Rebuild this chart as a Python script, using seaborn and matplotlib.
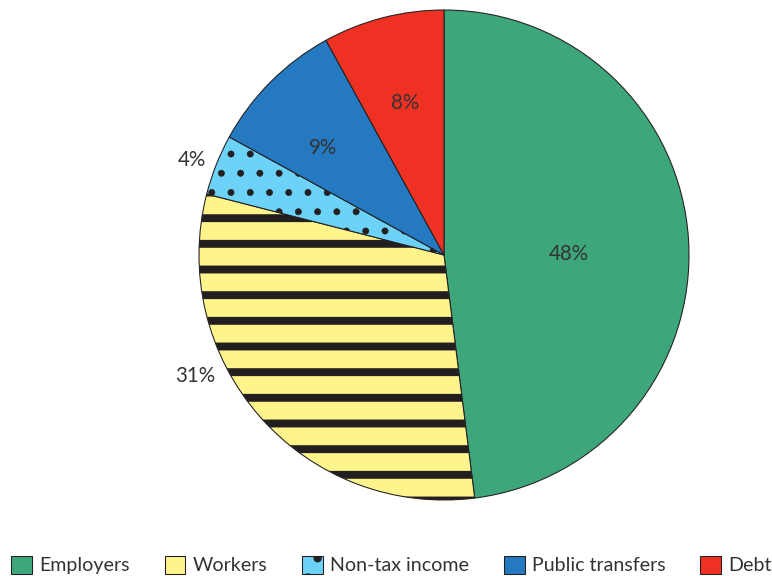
import numpy as np
import matplotlib
matplotlib.use("Agg")
import matplotlib.pyplot as plt
import matplotlib.hatch as mhatch
import seaborn as sns

# ---- data ----
categories = ["Employers", "Workers", "Non-tax income", "Public transfers", "Debt"]
shares = [48, 31, 4, 9, 8]
pct_labels = ["48%", "31%", "4%", "9%", "8%"]

# ---- style ----
colors = ["#3da77b", "#fff48c", "#6dd2f7", "#2479c0", "#ef3124"]
hatches = [None, "-", ".", None, None]
hatch_lw = [0.5, 3.7, 0.3, 0.5, 0.5]
text_color = "#333333"
edge_color = "#231f20"


# denser, bigger halftone-like dots for the '.' hatch
class _Dots(mhatch.Circles):
    size = 0.16
    filled = True

    def __init__(self, hatch, density):
        n = int(round(hatch.count('.') * density * 4 / 3))
        if n % 2:
            n += 1
        self.num_rows = n
        super().__init__(hatch, density)


if hasattr(mhatch, "_hatch_types"):
    mhatch._hatch_types = [(_Dots if c is mhatch.SmallFilledCircles else c)
                           for c in mhatch._hatch_types]

sns.set_theme(style="white")
plt.rcParams["font.family"] = ["Lato", "DejaVu Sans"]

DPI = 154
fig = plt.figure(figsize=(772 / DPI, 576 / DPI), dpi=DPI)
R_PX = 245.0
cx, cy = 444.0, 576.0 - 255.0
half = 1.25 * R_PX
ax = fig.add_axes([(cx - half) / 772, (cy - half) / 576, 2 * half / 772, 2 * half / 576])

wedges, _ = ax.pie(shares, colors=colors, startangle=90, counterclock=False,
                   wedgeprops=dict(edgecolor=edge_color, linewidth=0.5))
for w, h, lw in zip(wedges, hatches, hatch_lw):
    if h:
        w.set_hatch(h)
        if hasattr(w, "set_hatch_linewidth"):
            w.set_hatch_linewidth(lw)
ax.set_xlim(-1.25, 1.25)
ax.set_ylim(-1.25, 1.25)
ax.set_aspect("equal")
ax.axis("off")

# label placement (radius fraction, optional angle override in degrees)
label_r = [0.51, 1.13, 1.10, 0.66, 0.64]
label_ang = [0.5, 206.0, 159.3, 138.5, None]
fs = 9.6
for w, lab, r, a in zip(wedges, pct_labels, label_r, label_ang):
    if a is None:
        a = 0.5 * (w.theta1 + w.theta2)
    t = np.deg2rad(a)
    ax.text(r * np.cos(t), r * np.sin(t), lab, ha="center", va="center",
            fontsize=fs, color=text_color)

leg = fig.legend(wedges, categories, loc="center", bbox_to_anchor=(0.507, 0.019),
                 ncol=5, frameon=False, fontsize=9.2, handlelength=1.05,
                 handleheight=1.05, handletextpad=0.35, columnspacing=1.79,
                 borderpad=0, labelcolor=text_color)

fig.savefig("out.png", dpi=DPI)
